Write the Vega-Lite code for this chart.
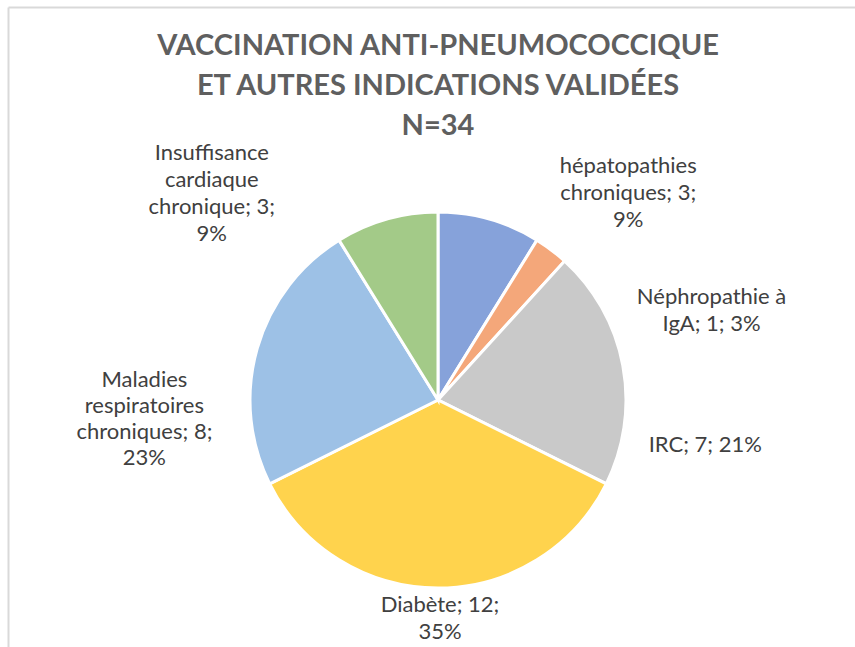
{
  "$schema": "https://vega.github.io/schema/vega-lite/v6.json",
  "width": 834,
  "height": 494,
  "autosize": {"type": "none"},
  "padding": {"left": 21, "top": 153, "right": 0, "bottom": 0},
  "background": "white",
  "title": {
    "text": ["VACCINATION ANTI-PNEUMOCOCCIQUE", "ET AUTRES INDICATIONS VALIDÉES", "N=34"],
    "font": "Lato",
    "fontSize": 29,
    "fontWeight": "bold",
    "color": "#5f5f5f",
    "lineHeight": 40,
    "anchor": "middle",
    "frame": "group",
    "offset": -137
  },
  "config": {
    "view": {"stroke": null}
  },
  "data": {
    "values": [
      {"i": 1, "name": "hépatopathies chroniques", "value": 3, "label": "hépatopathies\nchroniques; 3;\n9%"},
      {"i": 2, "name": "Néphropathie à IgA", "value": 1, "label": "Néphropathie à\nIgA; 1; 3%"},
      {"i": 3, "name": "IRC", "value": 7, "label": "IRC; 7; 21%"},
      {"i": 4, "name": "Diabète", "value": 12, "label": "Diabète; 12;\n35%"},
      {"i": 5, "name": "Maladies respiratoires chroniques", "value": 8, "label": "Maladies\nrespiratoires\nchroniques; 8;\n23%"},
      {"i": 6, "name": "Insuffisance cardiaque chronique", "value": 3, "label": "Insuffisance\ncardiaque\nchronique; 3;\n9%"}
    ]
  },
  "layer": [
    {
      "mark": {"type": "point", "opacity": 0},
      "encoding": {
        "x": {"datum": 0, "type": "quantitative", "scale": {"domain": [0, 1], "range": [-13, 834]},
              "axis": {"orient": "top", "offset": 146, "domainColor": "#d9d9d9", "domainWidth": 2, "ticks": false, "labels": false, "grid": false, "title": null}},
        "y": {"datum": 0, "type": "quantitative", "scale": {"domain": [0, 1], "range": [-146, 494]},
              "axis": {"orient": "left", "offset": 13, "domainColor": "#d9d9d9", "domainWidth": 2, "ticks": false, "labels": false, "grid": false, "title": null}}
      }
    },
    {
      "mark": {"type": "arc", "outerRadius": 188, "stroke": "white", "strokeWidth": 3},
      "encoding": {
        "theta": {"field": "value", "type": "quantitative", "stack": true},
        "order": {"field": "i"},
        "color": {
          "field": "name", "type": "nominal", "legend": null,
          "scale": {
            "domain": ["hépatopathies chroniques", "Néphropathie à IgA", "IRC", "Diabète", "Maladies respiratoires chroniques", "Insuffisance cardiaque chronique"],
            "range": ["#86a2da", "#f4a77a", "#c9c9c9", "#ffd34d", "#9dc1e6", "#a3ca88"]
          }
        }
      }
    },
    {
      "mark": {"type": "text", "radius": 220, "font": "Lato", "fontSize": 22, "color": "#404040", "lineBreak": "\n", "lineHeight": 27, "baseline": "middle", "align": "center", "dx": 130, "dy": -22},
      "encoding": {
        "theta": {"field": "value", "type": "quantitative", "stack": true},
        "order": {"field": "i"},
        "text": {"condition": {"test": "datum.i === 1", "field": "label"}, "value": ""}
      }
    },
    {
      "mark": {"type": "text", "radius": 220, "font": "Lato", "fontSize": 22, "color": "#404040", "lineBreak": "\n", "lineHeight": 27, "baseline": "middle", "align": "center", "dx": 141, "dy": 73},
      "encoding": {
        "theta": {"field": "value", "type": "quantitative", "stack": true},
        "order": {"field": "i"},
        "text": {"condition": {"test": "datum.i === 2", "field": "label"}, "value": ""}
      }
    },
    {
      "mark": {"type": "text", "radius": 220, "font": "Lato", "fontSize": 22, "color": "#404040", "lineBreak": "\n", "lineHeight": 27, "baseline": "middle", "align": "center", "dx": 51, "dy": 85},
      "encoding": {
        "theta": {"field": "value", "type": "quantitative", "stack": true},
        "order": {"field": "i"},
        "text": {"condition": {"test": "datum.i === 3", "field": "label"}, "value": ""}
      }
    },
    {
      "mark": {"type": "text", "radius": 220, "font": "Lato", "fontSize": 22, "color": "#404040", "lineBreak": "\n", "lineHeight": 27, "baseline": "middle", "align": "center", "dx": 2, "dy": -15},
      "encoding": {
        "theta": {"field": "value", "type": "quantitative", "stack": true},
        "order": {"field": "i"},
        "text": {"condition": {"test": "datum.i === 4", "field": "label"}, "value": ""}
      }
    },
    {
      "mark": {"type": "text", "radius": 220, "font": "Lato", "fontSize": 22, "color": "#404040", "lineBreak": "\n", "lineHeight": 26, "baseline": "middle", "align": "center", "dx": -82, "dy": 40},
      "encoding": {
        "theta": {"field": "value", "type": "quantitative", "stack": true},
        "order": {"field": "i"},
        "text": {"condition": {"test": "datum.i === 5", "field": "label"}, "value": ""}
      }
    },
    {
      "mark": {"type": "text", "radius": 220, "font": "Lato", "fontSize": 22, "color": "#404040", "lineBreak": "\n", "lineHeight": 27, "baseline": "middle", "align": "center", "dx": -166, "dy": -35},
      "encoding": {
        "theta": {"field": "value", "type": "quantitative", "stack": true},
        "order": {"field": "i"},
        "text": {"condition": {"test": "datum.i === 6", "field": "label"}, "value": ""}
      }
    }
  ]
}
